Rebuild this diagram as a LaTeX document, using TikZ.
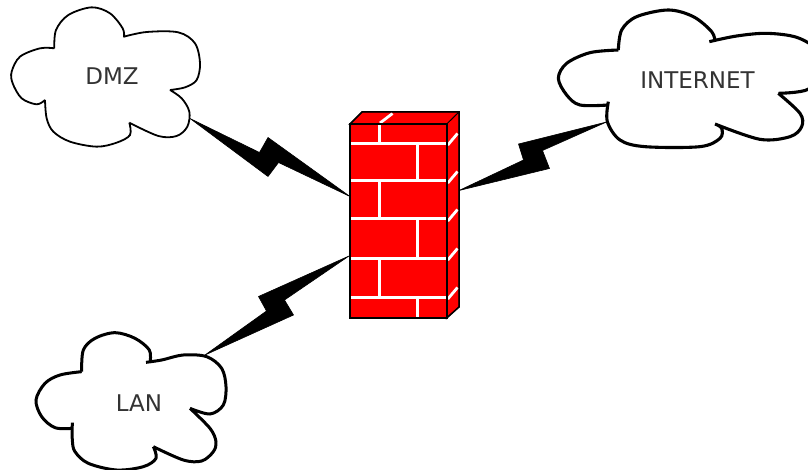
\documentclass[tikz,border=0pt]{standalone}
\usepackage{fontspec}
\setmainfont{DejaVu Sans}
\tikzset{
  cloudline/.style={draw=black,line join=miter,line cap=butt},
  cloudlabel/.style={text=black!80,font=\fontsize{23}{25}\selectfont,inner sep=0pt,anchor=center},
  bolt/.style={fill=black,draw=black,line width=0.6pt,line join=round},
  brick/.style={draw=white,line width=3pt},
  edgebrick/.style={draw=white,line width=2.8pt},
  wall/.style={fill=red,draw=black,line width=1.5pt,line join=miter}
}
\begin{document}
\begin{tikzpicture}[x=1pt,y=-1pt]
\useasboundingbox (0,0) rectangle (808,470);
\clip (0,0) rectangle (808,470);
\fill[white] (0,0) rectangle (808,470);
% Connector end points
\coordinate (dmzEnd) at (190,118.5);
\coordinate (fwA) at (350,196.5);
\coordinate (netEnd) at (606.5,122);
\coordinate (fwB) at (459,190.5);
\coordinate (lanEnd) at (205,355);
\coordinate (fwC) at (349,256);
% DMZ cloud
\begin{scope}[scale=1/3,line width=1.8pt]
\path[cloudline] plot[smooth,tension=0.55] coordinates {(163,145)(168,90)(205,45)(275,22)(330,40)(368,85)(372,112)}
 plot[smooth,tension=0.55] coordinates {(372,110)(440,96)(535,97)(585,130)(600,190)(590,240)(555,262)(510,270)}
 plot[smooth,tension=0.55] coordinates {(510,270)(545,295)(568,335)(562,380)(530,408)(475,408)(388,368)}
 plot[smooth,tension=0.55] coordinates {(388,368)(390,405)(350,428)(290,440)(210,425)(160,395)(140,355)(135,300)}
 plot[smooth,tension=0.55] coordinates {(135,300)(110,313)(65,295)(38,250)(35,215)(60,170)(120,145)(163,145)};
\end{scope}
% INTERNET cloud
\begin{scope}[shift={(450,0)},scale=1/3,line width=3.1pt]
\path[cloudline] plot[smooth,tension=0.55] coordinates {(505,150)(515,90)(560,50)(655,30)(730,50)(785,95)(795,125)}
 plot[smooth,tension=0.55] coordinates {(778,125)(860,108)(950,100)(1040,112)(1100,150)(1110,210)(1074,268)(985,280)}
 plot[smooth,tension=0.55] coordinates {(985,280)(1050,340)(1055,380)(1020,410)(930,418)(795,372)}
 plot[smooth,tension=0.55] coordinates {(795,372)(815,385)(810,415)(750,440)(585,440)(510,420)(472,365)(475,305)}
 plot[smooth,tension=0.55] coordinates {(475,315)(390,315)(350,285)(325,235)(350,190)(420,158)(505,150)};
\end{scope}
% LAN cloud
\begin{scope}[shift={(20,250)},scale=1/3,line width=3pt]
\path[cloudline] plot[smooth,tension=0.55] coordinates {(185,365)(190,300)(225,265)(285,248)(345,265)(388,300)(390,337)}
 plot[smooth,tension=0.55] coordinates {(378,337)(425,330)(490,315)(560,320)(605,355)(618,410)(610,465)(570,492)(510,475)}
 plot[smooth,tension=0.55] coordinates {(510,475)(570,535)(588,575)(580,605)(545,633)(490,630)(400,590)}
 plot[smooth,tension=0.55] coordinates {(400,590)(408,625)(370,650)(290,660)(205,640)(165,605)(157,570)(157,518)}
 plot[smooth,tension=0.55] coordinates {(157,535)(105,533)(65,500)(48,450)(75,400)(120,375)(185,365)};
\end{scope}
% Labels
\node[cloudlabel] (dmz) at (112,76) {DMZ};
\node[cloudlabel] (internet) at (697.5,80) {INTERNET};
\node[cloudlabel] (lan) at (139,403) {LAN};
% Lightning connectors
\filldraw[bolt] (dmzEnd) -- (259.5,152.5) -- (268,137.5) -- (fwA) -- (278.5,162.5) -- (268,176.5) -- cycle;
\filldraw[bolt] (netEnd) -- (518.5,144) -- (523.5,160) -- (fwB) -- (549.5,168.5) -- (542.5,150.5) -- cycle;
\filldraw[bolt] (fwC) -- (258.5,296.5) -- (266.5,311) -- (lanEnd) -- (293.5,315) -- (284.5,300) -- cycle;
% Firewall
\filldraw[wall] (350,124) -- (362,112) -- (459,112) -- (459,307) -- (446.7,318) -- (446.7,124) -- cycle;
\fill[red] (351,124.8) rectangle (446,317.2);
% mortar, front
\draw[brick] (351,143.3) -- (446,143.3) (351,181) -- (446,181) (351,219) -- (446,219) (351,259) -- (446,259) (351,297.3) -- (446,297.3);
\draw[brick] (379.3,124.8) -- (379.3,143.3) (379.3,181) -- (379.3,219) (379.3,259) -- (379.3,297.3);
\draw[brick] (417.3,143.3) -- (417.3,181) (417.3,219) -- (417.3,259) (417.3,297.3) -- (417.3,317.2);
% mortar, top and side
\draw[edgebrick] (380,123) -- (392.5,113.5);
\foreach \yy in {145,183,221,260,299} \draw[edgebrick] (447.8,\yy) -- (457.5,\yy-11.5);
\draw[black,line width=1.8pt,line join=miter] (350,124) rectangle (446.7,318);
\draw[black,line width=1pt,line join=miter] (350,124) -- (362,112) -- (459,112) -- (459,307) -- (446.7,318) (446.7,124) -- (459,112);
\end{tikzpicture}
\end{document}
